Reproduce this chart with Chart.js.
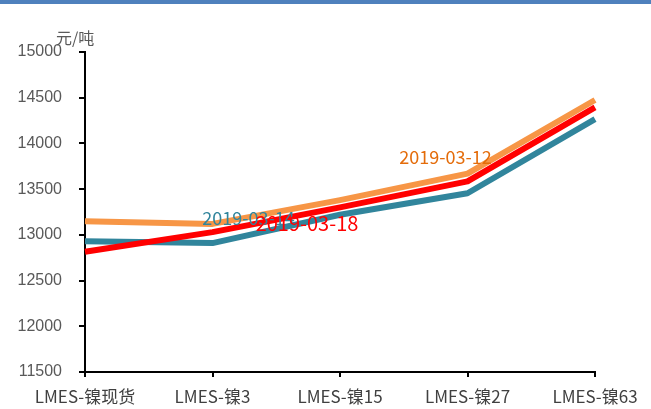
<!DOCTYPE html>
<html>
<head>
<meta charset="utf-8">
<script src="https://cdn.jsdelivr.net/npm/chart.js@4/dist/chart.umd.min.js"></script>
<style>
    html, body { margin: 0; padding: 0; background: #ffffff; }
    #wrap { position: relative; width: 651px; height: 409px; }
    #topBar { position: absolute; left: 0; top: 0; width: 651px; height: 4px; background: #4f81bd; }
</style>
</head>
<body>
<div id="wrap">
    <div id="topBar"></div>
    <canvas id="mainChart" width="651" height="409"></canvas>
</div>
<script>
// categories (contract months)
const categories = ['LMES-镍现货', 'LMES-镍3', 'LMES-镍15', 'LMES-镍27', 'LMES-镍63'];

// series values, 元/吨
const series0312 = [13150, 13120, 13380, 13670, 14475];
const series0314 = [12930, 12910, 13220, 13455, 14265];
const series0318 = [12815, 13030, 13300, 13585, 14395];

const seriesNames = ['2019-03-12', '2019-03-14', '2019-03-18'];

// y axis
const yTicks = [11500, 12000, 12500, 13000, 13500, 14000, 14500, 15000];
const unitLabel = '元/吨';

const orange = '#f79646';
const teal = '#31859c';
const red = '#ff0000';

/**
 * Draw the unit text above the y axis and the date labels beside the lines
 */
const annotatePlugin = {
    id: 'annotate',
    afterDatasetsDraw(chart) {
        const ctx = chart.ctx;
        const area = chart.chartArea;
        ctx.save();

        // unit
        ctx.font = '16px "Noto Sans CJK SC"';
        ctx.fillStyle = '#595959';
        ctx.textAlign = 'left';
        ctx.textBaseline = 'middle';
        ctx.fillText(unitLabel, area.left - 29, area.top - 14);

        // series labels: [dataset index, point index, dx, dy, colour, size]
        const labels = [
            [0, 3, -22, -16, '#e46c0a', 18],
            [1, 1, 36, -25, teal, 18],
            [2, 2, -33, 16, red, 20]
        ];
        ctx.textAlign = 'center';
        labels.forEach(([di, pi, dx, dy, color, size]) => {
            const pt = chart.getDatasetMeta(di).data[pi];
            ctx.font = size + 'px "Noto Sans CJK SC"';
            ctx.fillStyle = color;
            ctx.fillText(chart.data.datasets[di].label, pt.x + dx, pt.y + dy);
        });
        ctx.restore();
    }
};

function initChart() {
    const ctx = document.getElementById('mainChart');

    const lineStyle = {
        borderWidth: 6,
        pointRadius: 0,
        pointHoverRadius: 0,
        tension: 0,
        fill: false,
        borderCapStyle: 'butt',
        borderJoinStyle: 'round'
    };

    new Chart(ctx, {
        type: 'line',
        data: {
            labels: categories,
            datasets: [
                { label: seriesNames[0], data: series0312, borderColor: orange, order: 3, ...lineStyle },
                { label: seriesNames[1], data: series0314, borderColor: teal, order: 2, ...lineStyle },
                { label: seriesNames[2], data: series0318, borderColor: red, order: 1, ...lineStyle }
            ]
        },
        options: {
            responsive: false,
            animation: false,
            layout: {
                autoPadding: false,
                padding: { top: 52, right: 56, left: 0, bottom: 0 }
            },
            plugins: {
                legend: { display: false },
                tooltip: { enabled: false }
            },
            scales: {
                x: {
                    offset: false,
                    grid: {
                        drawOnChartArea: false,
                        tickLength: 5,
                        tickColor: '#000000',
                        lineWidth: 2
                    },
                    border: { color: '#000000', width: 2 },
                    ticks: {
                        color: '#404040',
                        font: { family: 'Noto Sans CJK SC', size: 17 },
                        padding: 9,
                        maxRotation: 0,
                        autoSkip: false
                    },
                    afterFit(scale) { scale.height = 37; }
                },
                y: {
                    min: yTicks[0],
                    max: yTicks[yTicks.length - 1],
                    afterBuildTicks(scale) {
                        scale.ticks = yTicks.map(v => ({ value: v }));
                    },
                    grid: {
                        drawOnChartArea: false,
                        tickLength: 6,
                        tickColor: '#000000',
                        lineWidth: 2
                    },
                    border: { color: '#000000', width: 2 },
                    ticks: {
                        color: '#595959',
                        font: { family: 'Liberation Sans', size: 16 },
                        padding: 17,
                        callback: value => String(value)
                    },
                    afterFit(scale) { scale.width = 85; }
                }
            }
        },
        plugins: [annotatePlugin]
    });
}

document.addEventListener('DOMContentLoaded', initChart);
</script>
</body>
</html>
